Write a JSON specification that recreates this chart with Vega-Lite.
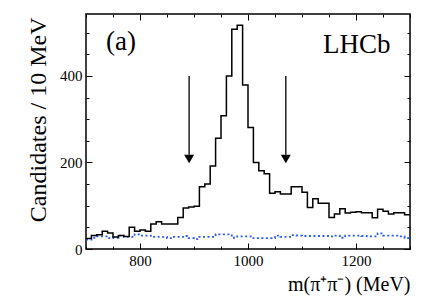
{
  "$schema": "https://vega.github.io/schema/vega-lite/v6.json",
  "width": 324,
  "height": 235,
  "autosize": "none",
  "padding": {"left": 86, "top": 14, "right": 22, "bottom": 47},
  "background": "white",
  "config": {
    "view": {"stroke": "#000", "strokeWidth": 1.5},
    "font": "Liberation Serif",
    "axis": {"grid": false, "domain": false, "labelFont": "Liberation Serif", "titleFont": "Liberation Serif", "labelColor": "#000", "titleColor": "#000", "tickColor": "#000", "labelFontSize": 15, "titleFontSize": 20, "titleFontWeight": "normal", "tickWidth": 1}
  },
  "datasets": {
    "hist": [
      {"m":700,"n":24,"bkg":22},{"m":710,"n":31,"bkg":26},{"m":720,"n":33,"bkg":29},{"m":730,"n":41,"bkg":29},{"m":740,"n":37,"bkg":25},
      {"m":750,"n":28,"bkg":26},{"m":760,"n":31,"bkg":31},{"m":770,"n":29,"bkg":28},{"m":780,"n":50,"bkg":28},{"m":790,"n":41,"bkg":34},
      {"m":800,"n":44,"bkg":31},{"m":810,"n":41,"bkg":31},{"m":820,"n":58,"bkg":28},{"m":830,"n":63,"bkg":28},{"m":840,"n":58,"bkg":28},
      {"m":850,"n":58,"bkg":25},{"m":860,"n":58,"bkg":28},{"m":870,"n":73,"bkg":28},{"m":880,"n":95,"bkg":30},{"m":890,"n":97,"bkg":25},
      {"m":900,"n":99,"bkg":23},{"m":910,"n":144,"bkg":28},{"m":920,"n":150,"bkg":28},{"m":930,"n":192,"bkg":28},{"m":940,"n":256,"bkg":34},
      {"m":950,"n":308,"bkg":34},{"m":960,"n":400,"bkg":34},{"m":970,"n":508,"bkg":26},{"m":980,"n":517,"bkg":29},{"m":990,"n":379,"bkg":29},
      {"m":1000,"n":281,"bkg":29},{"m":1010,"n":200,"bkg":25},{"m":1020,"n":181,"bkg":25},{"m":1030,"n":174,"bkg":25},{"m":1040,"n":129,"bkg":25},
      {"m":1050,"n":132,"bkg":31},{"m":1060,"n":127,"bkg":28},{"m":1070,"n":127,"bkg":28},{"m":1080,"n":144,"bkg":32},{"m":1090,"n":144,"bkg":31},
      {"m":1100,"n":131,"bkg":30},{"m":1110,"n":96,"bkg":30},{"m":1120,"n":116,"bkg":30},{"m":1130,"n":106,"bkg":30},{"m":1140,"n":106,"bkg":30},
      {"m":1150,"n":73,"bkg":29},{"m":1160,"n":81,"bkg":31},{"m":1170,"n":93,"bkg":26},{"m":1180,"n":83,"bkg":31},{"m":1190,"n":85,"bkg":31},
      {"m":1200,"n":86,"bkg":31},{"m":1210,"n":84,"bkg":30},{"m":1220,"n":84,"bkg":29},{"m":1230,"n":72,"bkg":29},{"m":1240,"n":92,"bkg":36},
      {"m":1250,"n":87,"bkg":31},{"m":1260,"n":81,"bkg":31},{"m":1270,"n":84,"bkg":31},{"m":1280,"n":84,"bkg":29},{"m":1290,"n":79,"bkg":25},
      {"m":1300,"n":79,"bkg":25}
    ],
    "arrows": [
      {"m":891,"top":400,"bot":218,"head":208},
      {"m":1070,"top":400,"bot":218,"head":208}
    ],
    "labels": [
      {"m":737,"v":460,"label":"(a)"},
      {"m":1139,"v":453,"label":"LHCb"}
    ]
  },
  "resolve": {"axis": {"x": "independent", "y": "independent"}},
  "layer": [
    {
      "data": {"name": "hist"},
      "mark": {"type": "line", "interpolate": "step-after", "color": "#2a5bf5", "strokeWidth": 1.8, "strokeDash": [2, 2.5], "clip": true},
      "encoding": {
        "x": {"field": "m", "type": "quantitative", "scale": {"domain": [700, 1300], "nice": false, "zero": false},
              "axis": {"orient": "bottom", "values": [800, 1000, 1200], "format": "d", "labelFont": "Liberation Serif", "labelFontSize": 15, "tickSize": -6, "labelPadding": 10, "title": "m(π⁺π⁻) (MeV)", "titleFont": "Liberation Serif", "titleAnchor": "end", "titleAlign": "right", "titleX": 324, "titleY": 41, "titleBaseline": "alphabetic"}},
        "y": {"field": "bkg", "type": "quantitative", "scale": {"domain": [0, 543], "nice": false, "zero": true},
              "axis": {"orient": "left", "values": [0, 200, 400], "format": "d", "labelFont": "Liberation Serif", "labelFontSize": 15, "tickSize": -6, "labelPadding": 10, "title": "Candidates / 10 MeV", "titleFont": "Liberation Serif", "titleFontSize": 24, "titleAngle": -90, "titleAlign": "right", "titleBaseline": "alphabetic", "titleX": -41, "titleY": 3, "titleAnchor": "end"}}
      }
    },
    {
      "data": {"name": "hist"},
      "mark": {"type": "line", "interpolate": "step-after", "color": "#000", "strokeWidth": 1.5, "clip": true},
      "encoding": {
        "x": {"field": "m", "type": "quantitative", "axis": {"orient": "bottom", "values": [700,750,850,900,950,1050,1100,1150,1250,1300], "tickSize": -3, "labels": false, "title": null}},
        "y": {"field": "n", "type": "quantitative", "axis": {"orient": "left", "values": [50,100,150,250,300,350,450,500], "tickSize": -3, "labels": false, "title": null}}
      }
    },
    {
      "data": {"name": "arrows"},
      "mark": {"type": "rule", "color": "#222", "strokeWidth": 1.5},
      "encoding": {
        "x": {"field": "m", "type": "quantitative", "axis": {"orient": "top", "values": [800, 1000, 1200], "tickSize": -6, "labels": false, "title": null}},
        "y": {"field": "top", "type": "quantitative", "axis": {"orient": "right", "values": [0, 200, 400], "tickSize": -6, "labels": false, "title": null}},
        "y2": {"field": "bot"}
      }
    },
    {
      "data": {"name": "arrows"},
      "mark": {"type": "point", "shape": "triangle-down", "filled": true, "color": "#000", "opacity": 1, "size": 100},
      "encoding": {
        "x": {"field": "m", "type": "quantitative", "axis": {"orient": "top", "values": [700,750,850,900,950,1050,1100,1150,1250,1300], "tickSize": -3, "labels": false, "title": null}},
        "y": {"field": "head", "type": "quantitative", "axis": {"orient": "right", "values": [50,100,150,250,300,350,450,500], "tickSize": -3, "labels": false, "title": null}}
      }
    },
    {
      "data": {"name": "labels"},
      "mark": {"type": "text", "font": "Liberation Serif", "fontSize": 27, "align": "left", "baseline": "alphabetic", "color": "#000"},
      "encoding": {
        "x": {"field": "m", "type": "quantitative", "axis": null},
        "y": {"field": "v", "type": "quantitative", "axis": null},
        "text": {"field": "label"}
      }
    }
  ]
}
